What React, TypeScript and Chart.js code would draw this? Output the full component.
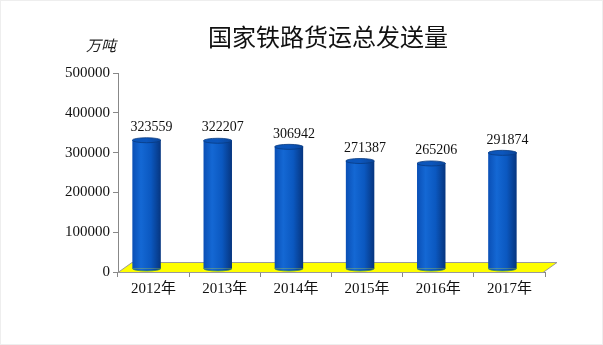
import React, { useEffect, useRef } from "react";
import { Chart, registerables } from "chart.js";

Chart.register(...registerables);

const categories = ["2012年", "2013年", "2014年", "2015年", "2016年", "2017年"];
const freightVolume = [323559, 322207, 306942, 271387, 265206, 291874];
const yTicks = [0, 100000, 200000, 300000, 400000, 500000];
const chartTitle = "国家铁路货运总发送量";
const unitLabel = "万吨";

const SERIF = '"Liberation Serif", "Times New Roman", "Noto Sans CJK SC", serif';
const CJK = '"Noto Sans CJK SC", "Noto Sans", sans-serif';

const BAR_DX = -7;
const BAR_DY = -3;
const CAP_RY = 2.5;

const cylinderPlugin = {
  id: "cylinder3d",
  beforeDraw(chart: any) {
    const { ctx, width, height } = chart;
    ctx.save();
    ctx.fillStyle = "#ffffff";
    ctx.fillRect(0, 0, width, height);
    ctx.strokeStyle = "#eeeeee";
    ctx.lineWidth = 1;
    ctx.strokeRect(0.5, 0.5, width - 1, height - 1);
    ctx.fillStyle = "#111111";
    ctx.font = `24px ${CJK}`;
    ctx.textAlign = "center";
    ctx.textBaseline = "middle";
    ctx.fillText(chartTitle, 328, 37);
    ctx.font = `italic 15px ${CJK}`;
    ctx.fillStyle = "#222222";
    ctx.fillText(unitLabel, 101, 45);
    ctx.restore();
  },
  beforeDatasetsDraw(chart: any) {
    const { ctx, chartArea, scales } = chart;
    const base = scales.y.getPixelForValue(0);
    const l = chartArea.left;
    const r = chartArea.right - 2;
    ctx.save();
    ctx.beginPath();
    ctx.moveTo(l, base + 0.5);
    ctx.lineTo(r, base + 0.5);
    ctx.lineTo(r + 14, base - 9.5);
    ctx.lineTo(l + 14, base - 9.5);
    ctx.closePath();
    ctx.fillStyle = "#ffff00";
    ctx.fill();
    ctx.strokeStyle = "#9a9a9a";
    ctx.lineWidth = 1;
    ctx.stroke();
    ctx.restore();
    ctx.save();
    ctx.translate(BAR_DX, BAR_DY);
  },
  afterDatasetsDraw(chart: any) {
    const { ctx } = chart;
    const meta = chart.getDatasetMeta(0);
    meta.data.forEach((bar: any) => {
      const { x, y, base, width } = bar.getProps(["x", "y", "base", "width"], true);
      const rx = width / 2;
      const g = ctx.createLinearGradient(x - rx, 0, x + rx, 0);
      g.addColorStop(0, "#0a4fb5");
      g.addColorStop(0.3, "#1468d4");
      g.addColorStop(0.65, "#0b58c0");
      g.addColorStop(1, "#06357f");
      ctx.beginPath();
      ctx.ellipse(x, base, rx, CAP_RY, 0, 0, Math.PI);
      ctx.fillStyle = g;
      ctx.fill();
      ctx.strokeStyle = "#3a8a5a";
      ctx.lineWidth = 0.8;
      ctx.stroke();
      const cg = ctx.createLinearGradient(x - rx, 0, x + rx, 0);
      cg.addColorStop(0, "#0c55b8");
      cg.addColorStop(0.5, "#0c56bc");
      cg.addColorStop(1, "#0a469c");
      ctx.beginPath();
      ctx.ellipse(x, y, rx, CAP_RY, 0, 0, Math.PI * 2);
      ctx.fillStyle = cg;
      ctx.fill();
      ctx.strokeStyle = "#083a80";
      ctx.lineWidth = 0.8;
      ctx.stroke();
    });
    ctx.restore();
    ctx.save();
    ctx.font = `14px ${SERIF}`;
    ctx.fillStyle = "#111111";
    ctx.textAlign = "center";
    ctx.textBaseline = "middle";
    meta.data.forEach((bar: any, i: number) => {
      const { x, y } = bar.getProps(["x", "y"], true);
      ctx.fillText(String(freightVolume[i]), x - 2, y - 16);
    });
    ctx.restore();
  },
};

export default function App() {
  const ref = useRef<HTMLCanvasElement | null>(null);
  useEffect(() => {
    document.body.style.margin = "0";
    const canvas = ref.current;
    if (!canvas) return;
    const chart = new Chart(canvas, {
      type: "bar",
      data: {
        labels: categories,
        datasets: [
          {
            data: freightVolume,
            backgroundColor: (c: any) => {
              const chartRef = c.chart;
              const xs = chartRef.scales && chartRef.scales.x;
              if (!xs || xs.left === undefined) return "#0b5bc4";
              const x = xs.getPixelForValue(c.dataIndex);
              const w = (xs.width / categories.length) * 0.4;
              const g = chartRef.ctx.createLinearGradient(x - w / 2, 0, x + w / 2, 0);
              g.addColorStop(0, "#0a4fb5");
              g.addColorStop(0.3, "#1468d4");
              g.addColorStop(0.65, "#0b58c0");
              g.addColorStop(1, "#06357f");
              return g;
            },
            borderWidth: 0,
            barPercentage: 0.4,
            categoryPercentage: 1,
          },
        ],
      },
      options: {
        responsive: false,
        animation: false,
        layout: { padding: { left: 0, top: 73, right: 58, bottom: 0 } },
        plugins: {
          legend: { display: false },
          title: { display: false },
          tooltip: { enabled: false },
        },
        scales: {
          x: {
            offset: true,
            grid: { drawOnChartArea: false, drawTicks: true, tickLength: 5, color: "#888888", offset: true },
            border: { color: "#888888" },
            ticks: { font: { family: SERIF, size: 15 }, color: "#111111", padding: 3, maxRotation: 0 },
            afterFit: (s: any) => {
              s.height = 73;
            },
          },
          y: {
            min: 0,
            max: 500000,
            afterBuildTicks: (s: any) => {
              s.ticks = yTicks.map((v) => ({ value: v }));
            },
            grid: { drawOnChartArea: false, drawTicks: true, tickLength: 5, color: "#888888" },
            border: { color: "#888888" },
            ticks: {
              font: { family: SERIF, size: 15 },
              color: "#111111",
              padding: 3,
              callback: (v: any) => String(v),
            },
            afterFit: (s: any) => {
              s.width = 118;
            },
          },
        },
      },
      plugins: [cylinderPlugin],
    });
    return () => chart.destroy();
  }, []);
  return (
    <div style={{ position: "absolute", left: 0, top: 0, width: 603, height: 345 }}>
      <canvas ref={ref} width={603} height={345} style={{ width: 603, height: 345 }} />
    </div>
  );
}
